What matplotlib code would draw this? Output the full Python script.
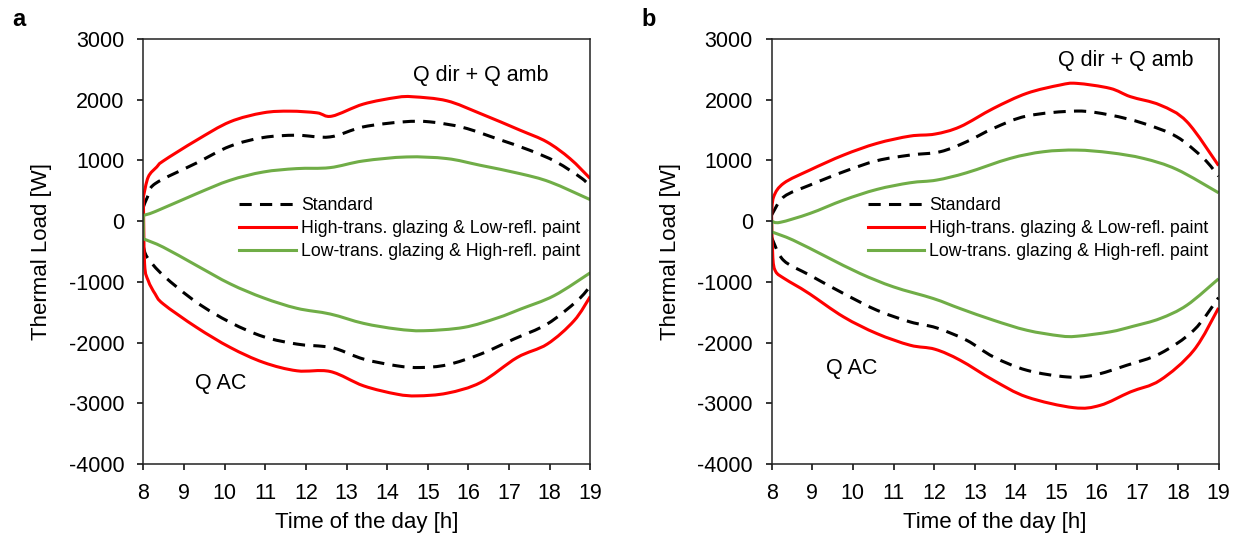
import matplotlib.pyplot as plt
from matplotlib.path import Path
from matplotlib.patches import PathPatch
from matplotlib.lines import Line2D

plt.rcParams['font.family'] = ['Liberation Sans', 'DejaVu Sans']
plt.rcParams['axes.unicode_minus'] = False

labels = ['Standard',
          'High-trans. glazing & Low-refl. paint',
          'Low-trans. glazing & High-refl. paint']

# ---- panel a ----
a_std_up_h = [8.0, 8.1, 8.29, 9.31, 10.13, 10.95, 11.77, 12.59, 13.41, 14.40, 15.05, 15.87, 16.69, 17.51, 18.16, 18.8, 19.0]
a_std_up = [231, 396, 617, 958, 1233, 1377, 1415, 1387, 1552, 1635, 1635, 1542, 1360, 1167, 975, 700, 560]
a_std_dn_h = [8.0, 8.1, 8.5, 9.31, 10.14, 10.96, 11.78, 12.44, 12.77, 13.42, 14.24, 14.82, 15.48, 16.30, 17.12, 17.94, 18.68, 19.0]
a_std_dn = [-420, -600, -900, -1337, -1668, -1904, -2025, -2064, -2107, -2272, -2383, -2411, -2366, -2190, -1942, -1694, -1309, -1070]

a_hi_up_h = [8.0, 8.12, 8.33, 8.49, 9.31, 10.13, 10.95, 11.61, 12.27, 12.64, 13.41, 14.23, 14.64, 15.47, 16.29, 17.27, 17.93, 18.5, 19.0]
a_hi_up = [396, 727, 892, 991, 1333, 1635, 1784, 1811, 1784, 1729, 1927, 2037, 2048, 1982, 1773, 1498, 1305, 1030, 700]
a_hi_dn_h = [8.0, 8.03, 8.12, 8.29, 8.49, 9.31, 10.14, 10.96, 11.78, 12.60, 13.42, 14.24, 14.74, 15.48, 16.30, 17.20, 17.94, 18.60, 19.0]
a_hi_dn = [396, -700, -980, -1199, -1364, -1750, -2081, -2328, -2465, -2477, -2713, -2850, -2878, -2833, -2658, -2246, -2025, -1640, -1240]

a_lo_up_h = [8.0, 8.3, 9.31, 10.13, 10.95, 11.77, 12.59, 13.41, 14.48, 15.47, 16.29, 17.27, 18.01, 19.0]
a_lo_up = [94, 160, 452, 672, 809, 865, 881, 991, 1057, 1030, 920, 782, 644, 353]
a_lo_dn_h = [8.0, 8.0, 8.49, 9.31, 10.14, 10.96, 11.78, 12.60, 13.42, 14.24, 14.90, 15.89, 16.71, 17.29, 18.11, 19.0]
a_lo_dn = [94, -291, -429, -731, -1034, -1265, -1436, -1530, -1684, -1777, -1805, -1750, -1595, -1447, -1227, -850]

# ---- panel b ----
b_std_up_h = [8.0, 8.3, 8.94, 9.77, 10.59, 11.41, 12.15, 12.80, 13.46, 14.28, 15.51, 16.33, 17.15, 17.97, 18.63, 19.0]
b_std_up = [100, 400, 593, 813, 995, 1088, 1143, 1308, 1528, 1731, 1813, 1747, 1610, 1390, 1033, 740]
b_std_dn_h = [8.0, 8.29, 8.94, 9.77, 10.59, 11.41, 12.06, 12.80, 13.46, 14.28, 15.27, 15.92, 16.74, 17.56, 18.39, 19.0]
b_std_dn = [-270, -643, -890, -1192, -1467, -1660, -1758, -1962, -2236, -2456, -2566, -2539, -2374, -2181, -1797, -1260]

b_hi_up_h = [8.0, 8.05, 8.3, 8.94, 9.77, 10.59, 11.41, 12.02, 12.64, 13.46, 14.28, 15.10, 15.51, 16.33, 16.83, 17.56, 18.22, 19.0]
b_hi_up = [90, 400, 625, 841, 1088, 1280, 1401, 1434, 1555, 1857, 2105, 2242, 2269, 2187, 2050, 1912, 1638, 915]
b_hi_dn_h = [8.0, 8.03, 8.1, 8.3, 8.6, 8.94, 9.77, 10.59, 11.41, 12.02, 12.64, 13.46, 14.28, 15.43, 16.09, 16.83, 17.56, 18.39, 19.0]
b_hi_dn = [90, -600, -830, -940, -1060, -1200, -1577, -1852, -2044, -2110, -2291, -2621, -2896, -3072, -3033, -2813, -2621, -2127, -1430]

b_lo_up_h = [8.0, 8.21, 8.94, 9.77, 10.59, 11.41, 12.06, 12.80, 13.87, 14.69, 15.51, 16.33, 17.15, 17.97, 19.0]
b_lo_up = [0, -20, 126, 346, 522, 632, 676, 797, 1033, 1143, 1170, 1127, 1033, 852, 467]
b_lo_dn_h = [8.0, 8.0, 8.53, 9.35, 10.18, 11.0, 11.98, 12.64, 13.46, 14.28, 15.10, 15.51, 16.33, 16.90, 17.56, 18.22, 19.0]
b_lo_dn = [0, -176, -313, -588, -863, -1083, -1275, -1440, -1632, -1797, -1890, -1896, -1824, -1731, -1605, -1385, -950]

panels = [
    ('a', [(a_std_up_h, a_std_up), (a_std_dn_h, a_std_dn)],
          [(a_hi_up_h, a_hi_up), (a_hi_dn_h, a_hi_dn)],
          [(a_lo_up_h, a_lo_up), (a_lo_dn_h, a_lo_dn)],
          (14.64, 2406), (9.27, -2668)),
    ('b', [(b_std_up_h, b_std_up), (b_std_dn_h, b_std_dn)],
          [(b_hi_up_h, b_hi_up), (b_hi_dn_h, b_hi_dn)],
          [(b_lo_up_h, b_lo_up), (b_lo_dn_h, b_lo_dn)],
          (15.04, 2640), (9.34, -2430)),
]

colors = ['black', '#ff0000', '#70ad47']
styles = [(0, (4, 2.7)), '-', '-']
LW = 2.2


def smooth(x, y):
    # smoothed line through the points (cubic bezier, catmull-rom tangents)
    pts = list(zip(x, y))
    n = len(pts)
    verts = [pts[0]]
    codes = [Path.MOVETO]
    for i in range(n - 1):
        p1, p2 = pts[i], pts[i + 1]
        if p1[0] == p2[0]:
            verts.append(p2)
            codes.append(Path.LINETO)
            continue
        p0 = pts[i - 1] if i > 0 and pts[i - 1][0] != p1[0] else p1
        p3 = pts[i + 2] if i + 2 < n and pts[i + 2][0] != p2[0] else p2
        c1 = (p1[0] + (p2[0] - p0[0]) / 6, p1[1] + (p2[1] - p0[1]) / 6)
        c2 = (p2[0] - (p3[0] - p1[0]) / 6, p2[1] - (p3[1] - p1[1]) / 6)
        verts += [c1, c2, p2]
        codes += [Path.CURVE4] * 3
    return Path(verts, codes)


fig = plt.figure(figsize=(12.52, 5.46), dpi=100)
lefts = [0.1145, 0.6163]

for k, (tag, std, hi, lo, txt_up, txt_dn) in enumerate(panels):
    ax = fig.add_axes([lefts[k], 0.1502, 0.357, 0.7784])
    for series, c, ls in zip([std, hi, lo], colors, styles):
        for x, y in series:
            ax.add_patch(PathPatch(smooth(x, y), fill=False, edgecolor=c,
                                   lw=LW, linestyle=ls, capstyle='butt',
                                   joinstyle='round'))
    ax.set_xlim(8, 19)
    ax.set_ylim(-4000, 3000)
    ax.set_xticks(range(8, 20))
    ax.set_yticks(range(-4000, 3001, 1000))
    ax.tick_params(direction='out', length=4.5, width=1.1, pad=9,
                   labelsize=15.5, colors='black')
    for s in ax.spines.values():
        s.set_linewidth(1.1)
        s.set_color('#222222')
    ax.set_xlabel('Time of the day [h]', fontsize=16, labelpad=6)
    ax.set_ylabel('Thermal Load [W]', fontsize=16, labelpad=12)

    ax.text(txt_up[0], txt_up[1], 'Q dir + Q amb', fontsize=15.5, ha='left', va='center')
    ax.text(txt_dn[0], txt_dn[1], 'Q AC', fontsize=15.5, ha='left', va='center')

    handles = [Line2D([], [], color=c, lw=LW, linestyle=ls) for c, ls in zip(colors, styles)]
    ax.legend(handles, labels, loc='upper left', bbox_to_anchor=(0.215, 0.628),
              frameon=False, fontsize=12.7, handlelength=3.2, handletextpad=0.3,
              labelspacing=0.35, borderpad=0, borderaxespad=0)

fig.text(0.0096, 0.952, 'a', fontsize=17, fontweight='bold')
fig.text(0.512, 0.952, 'b', fontsize=17, fontweight='bold')

fig.savefig('out.png', dpi=100)
